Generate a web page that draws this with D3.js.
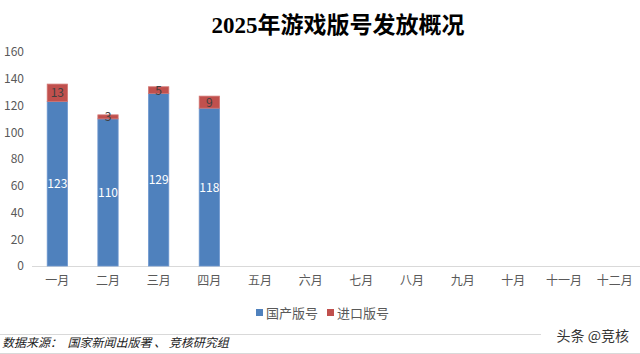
<!DOCTYPE html>
<html><head><meta charset="utf-8">
<script src="https://cdn.jsdelivr.net/npm/d3@7"></script>
<style>body{margin:0;background:#fff}svg{display:block}</style>
</head><body><svg id="c" width="640" height="354"></svg>
<script>
const months = ["一月","二月","三月","四月","五月","六月","七月","八月","九月","十月","十一月","十二月"];
const domestic = [123,110,129,118,null,null,null,null,null,null,null,null];
const imported = [13,3,5,9,null,null,null,null,null,null,null,null];
const yTicks = [0,20,40,60,80,100,120,140,160];
const seriesNames = ["国产版号","进口版号"];
const colors = ["#4F81BD","#C0504D"];

const svg = d3.select("#c");
const font = "'Noto Sans CJK SC','Noto Sans',sans-serif";
const x = d3.scaleBand().domain(months).range([32,640]).paddingInner(0.6).paddingOuter(0.3);
const y = d3.scaleLinear().domain([0,160]).range([266,52]);

svg.append("text").attr("x",338).attr("y",33).attr("text-anchor","middle")
  .attr("font-family","'Liberation Serif','Noto Sans CJK SC',serif").attr("font-weight","bold")
  .attr("font-size",23).attr("fill","#000").text("2025年游戏版号发放概况");

const yAxis = svg.append("g").attr("transform","translate(24,0)")
  .call(d3.axisLeft(y).tickValues(yTicks).tickSize(0).tickPadding(0));
yAxis.select(".domain").remove();
yAxis.selectAll("text").attr("font-family",font).attr("font-size",12).attr("fill","#595959");

const xAxis = svg.append("g").attr("transform","translate(0,266)")
  .call(d3.axisBottom(x).tickSize(0).tickPadding(10));
xAxis.select(".domain").attr("stroke","#d9d9d9").attr("d","M32,0.5H640");
xAxis.selectAll("text").attr("font-family",font).attr("font-size",12).attr("fill","#595959");

const data = months.map((m,i)=>({m,d:domestic[i],im:imported[i]})).filter(o=>o.d!=null);
const g = svg.append("g");
g.selectAll("rect.d").data(data).join("rect").attr("class","d")
  .attr("x",o=>x(o.m)).attr("width",x.bandwidth())
  .attr("y",o=>y(o.d)).attr("height",o=>y(0)-y(o.d))
  .attr("fill",colors[0]).attr("stroke","#6C96CF").attr("stroke-width",0.8);
g.selectAll("rect.i").data(data).join("rect").attr("class","i")
  .attr("x",o=>x(o.m)).attr("width",x.bandwidth())
  .attr("y",o=>y(o.d+o.im)).attr("height",o=>y(o.d)-y(o.d+o.im))
  .attr("fill",colors[1]).attr("stroke","#D27471").attr("stroke-width",0.8);
g.selectAll("text.d").data(data).join("text").attr("class","d")
  .attr("x",o=>x(o.m)+x.bandwidth()/2).attr("y",o=>y(o.d/2)+4.5)
  .attr("text-anchor","middle").attr("font-family",font).attr("font-size",12)
  .attr("fill","#fff").text(o=>o.d);
g.selectAll("text.i").data(data).join("text").attr("class","i")
  .attr("x",o=>x(o.m)+x.bandwidth()/2).attr("y",o=>y(o.d+o.im/2)+4.5)
  .attr("text-anchor","middle").attr("font-family",font).attr("font-size",12)
  .attr("fill","#404040").text(o=>o.im);

const leg = svg.append("g");
const legX = [256,327];
seriesNames.forEach((n,i)=>{
  leg.append("rect").attr("x",legX[i]).attr("y",309).attr("width",7).attr("height",7).attr("fill",colors[i]);
  leg.append("text").attr("x",legX[i]+10).attr("y",317.5).attr("font-family",font).attr("font-size",13)
    .attr("fill","#595959").text(n);
});

svg.append("line").attr("x1",0).attr("x2",541).attr("y1",334.5).attr("y2",334.5).attr("stroke","#d9d9d9");
svg.append("line").attr("x1",0).attr("x2",640).attr("y1",353.5).attr("y2",353.5).attr("stroke","#d9d9d9");
svg.append("text").attr("x",2).attr("y",347).attr("font-family",font).attr("font-size",12)
  .attr("font-style","italic").attr("fill","#222").attr("xml:space","preserve")
  .text("数据来源：  国家新闻出版署 、 竞核研究组");
svg.append("text").attr("x",629).attr("y",341).attr("text-anchor","end").attr("font-family",font)
  .attr("font-size",14).attr("fill","#333").text("头条 @竞核");
</script></body></html>
